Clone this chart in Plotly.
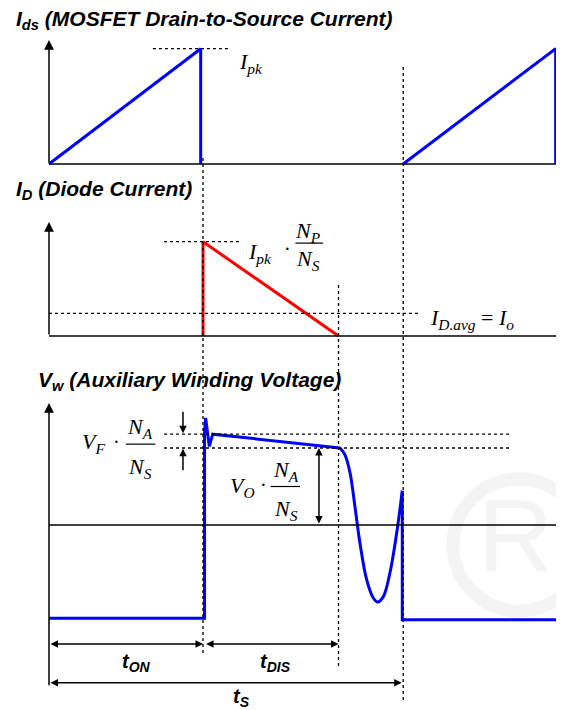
#
# Flyback waveforms: Ids, ID and Vw with Plotly
#

import plotly.graph_objects as go

W, H = 564, 710
OFF = 8  # browser body margin around the plot div
FW, FH = W - OFF, H - OFF

# time marks (t_ON = 1 unit)
t_on = 1.0
t_dis_end = 1.88
t_s = 2.3
t_end = 3.35

# MOSFET current (normalised to Ipk)
ids_t = [0, 0.985, 0.985, None, t_s, 3.29, 3.29]
ids_v = [0, 1.0, 0.0, None, 0, 1.0, 0.0]

# Diode current (normalised to Ipk*Np/Ns)
id_t = [t_on, t_on, t_dis_end]
id_v = [0, 1.0, 0]
id_avg = 0.24

# Auxiliary winding voltage (normalised to Vo*Na/Ns)
vw_on_t = [0, 1.01, 1.01, 1.017, 1.041, 1.063, 1.89]
vw_on_v = [-1.21, -1.21, 1.2, 1.39, 1.02, 1.18, 1.0]
vw_ring_t = [1.89, 1.922, 1.955, 1.987, 2.019, 2.063, 2.106, 2.134, 2.171, 2.214, 2.258, 2.294]
vw_ring_v = [1.0, 0.91, 0.675, 0.234, -0.234, -0.714, -0.948, -1.0, -0.93, -0.62, -0.10, 0.445]
vw_off_t = [2.294, 2.294, 3.32]
vw_off_v = [0.445, -1.23, -1.23]
vf_level = 1.18


def px(x):
    return (x - OFF) / FW


def py(y):
    return 1 - (y - OFF) / FH


def ydom(p0, p1, top, bot):
    # value 0 at pixel p0, value 1 at pixel p1, panel between top and bot
    u = p0 - p1
    return dict(domain=[py(bot), py(top)],
                range=[(p0 - bot) / u, (p0 - top) / u],
                visible=False, fixedrange=True, anchor="x")


fig = go.Figure()

# faint watermark letter (drawn first so the lines sit on top)
fig.add_trace(go.Scatter(x=[3.03], y=[-0.27], mode="text", text=["R"], yaxis="y3",
                         textfont=dict(family="Liberation Sans, Arial, sans-serif",
                                       size=104, color="#f4f4f4"),
                         hoverinfo="skip"))

fig.add_trace(go.Scatter(x=ids_t, y=ids_v, mode="lines", yaxis="y",
                         line=dict(color="#0000ff", width=3), connectgaps=False))
fig.add_trace(go.Scatter(x=id_t, y=id_v, mode="lines", yaxis="y2",
                         line=dict(color="#ff0000", width=3)))
fig.add_trace(go.Scatter(x=vw_on_t, y=vw_on_v, mode="lines", yaxis="y3",
                         line=dict(color="#0000ff", width=3)))
fig.add_trace(go.Scatter(x=vw_ring_t, y=vw_ring_v, mode="lines", yaxis="y3",
                         line=dict(color="#0000ff", width=3, shape="spline", smoothing=1)))
fig.add_trace(go.Scatter(x=vw_off_t, y=vw_off_v, mode="lines", yaxis="y3",
                         line=dict(color="#0000ff", width=3)))

blk = dict(color="black", width=1.5)
dot = dict(color="black", width=1.3, dash="dot")
shapes = []

# faint watermark ring (registered mark)
shapes.append(dict(type="circle", xref="paper", yref="paper", layer="below",
                   x0=px(453), x1=px(585), y0=py(611), y1=py(479),
                   line=dict(color="#f4f4f4", width=13)))

# baselines
for yr in ["y", "y2", "y3"]:
    shapes.append(dict(type="line", xref="x", yref=yr, x0=0, x1=t_end, y0=0, y1=0, line=blk))
# dotted guides
shapes.append(dict(type="line", xref="x", yref="y", x0=0.675, x1=1.175, y0=1, y1=1, line=dot))
shapes.append(dict(type="line", xref="x", yref="y2", x0=0.747, x1=1.234, y0=1, y1=1, line=dot))
shapes.append(dict(type="line", xref="x", yref="y2", x0=0, x1=2.416, y0=id_avg, y1=id_avg, line=dot))
shapes.append(dict(type="line", xref="x", yref="y3", x0=0.747, x1=3.0, y0=vf_level, y1=vf_level, line=dot))
shapes.append(dict(type="line", xref="x", yref="y3", x0=0.747, x1=3.0, y0=1, y1=1, line=dot))
shapes.append(dict(type="line", xref="x", yref="paper", x0=t_on, x1=t_on,
                   y0=py(158), y1=py(656), line=dot))
shapes.append(dict(type="line", xref="x", yref="paper", x0=t_dis_end, x1=t_dis_end,
                   y0=py(285), y1=py(667), line=dot))
shapes.append(dict(type="line", xref="x", yref="paper", x0=t_s, x1=t_s,
                   y0=py(67), y1=py(700), line=dot))

ann = []


def arrow(x, y, ax, ay, yref, both=False, size=1.3):
    ann.append(dict(x=x, y=y, ax=ax, ay=ay, xref="x", yref=yref, axref="x", ayref=yref,
                    text="", showarrow=True, arrowhead=2, arrowsize=size, arrowwidth=1.5,
                    arrowcolor="black", standoff=0, startstandoff=0,
                    arrowside="end+start" if both else "end", startarrowhead=2,
                    startarrowsize=size))


# y axes with arrow tips
arrow(0, 1.075, 0, 0, "y")
arrow(0, 1.21, 0, 0, "y2")
arrow(0, 1.584, 0, -2.1, "y3")
# Vf marks
arrow(0.87, 1.19, 0.87, 1.49, "y3", size=1.0)
arrow(0.87, 0.99, 0.87, 0.69, "y3", size=1.0)
# Vo double arrow
arrow(1.753, 1.0, 1.753, 0.0, "y3", both=True, size=1.0)
# time spans
arrow(t_on, -1.545, 0, -1.545, "y3", both=True, size=1.0)
arrow(t_dis_end, -1.545, 1.01, -1.545, "y3", both=True, size=1.0)
arrow(t_s - 0.01, -2.05, 0, -2.05, "y3", both=True, size=1.0)

sans = "Liberation Sans, Arial, sans-serif"
serif = "Liberation Serif, Times New Roman, serif"


def txt(x, y, s, xref="paper", yref="paper", size=20, fam=sans, anchor="left"):
    ann.append(dict(x=x, y=y, xref=xref, yref=yref, text=s, showarrow=False,
                    xanchor=anchor, yanchor="middle",
                    font=dict(family=fam, size=size, color="black")))


# titles
txt(px(14), py(20), "<b><i>I<sub>ds</sub> (MOSFET Drain-to-Source Current)</i></b>", size=21)
txt(px(14), py(190), "<b><i>I<sub>D</sub> (Diode Current)</i></b>", size=21)
txt(px(36), py(381), "<b><i>V<sub>w</sub> (Auxiliary Winding Voltage)</i></b>", size=21)

# Ipk
txt(1.22, 0.88, "<i>I</i><sub><i>pk</i></sub>", xref="x", yref="y", size=22, fam=serif)

# Ipk*Np/Ns
txt(1.28, 0.88, "<i>I</i><sub><i>pk</i></sub>", xref="x", yref="y2", size=22, fam=serif)
txt(1.51, 0.92, "·", xref="x", yref="y2", size=20, fam=serif)
txt(1.68, 1.1, "<i>N</i><sub><i>P</i></sub>", xref="x", yref="y2", size=22, fam=serif, anchor="center")
txt(1.68, 0.81, "<i>N</i><sub><i>S</i></sub>", xref="x", yref="y2", size=22, fam=serif, anchor="center")
shapes.append(dict(type="line", xref="x", yref="y2", x0=1.6, x1=1.78, y0=0.985, y1=0.985,
                   line=dict(color="black", width=1.2)))
# ID.avg = Io
txt(2.46, 0.18, "<i>I</i><sub><i>D.avg</i></sub> = <i>I</i><sub><i>o</i></sub>",
    xref="x", yref="y2", size=22, fam=serif)

# Vf*Na/Ns
txt(0.2, 1.06, "<i>V</i><sub><i>F</i></sub>", xref="x", yref="y3", size=22, fam=serif)
txt(0.4, 1.08, "·", xref="x", yref="y3", size=20, fam=serif)
txt(0.59, 1.26, "<i>N</i><sub><i>A</i></sub>", xref="x", yref="y3", size=22, fam=serif, anchor="center")
txt(0.59, 0.74, "<i>N</i><sub><i>S</i></sub>", xref="x", yref="y3", size=22, fam=serif, anchor="center")
shapes.append(dict(type="line", xref="x", yref="y3", x0=0.5, x1=0.69, y0=1.05, y1=1.05,
                   line=dict(color="black", width=1.2)))
# Vo*Na/Ns
txt(1.16, 0.5, "<i>V</i><sub><i>O</i></sub>", xref="x", yref="y3", size=22, fam=serif)
txt(1.36, 0.52, "·", xref="x", yref="y3", size=20, fam=serif)
txt(1.54, 0.7, "<i>N</i><sub><i>A</i></sub>", xref="x", yref="y3", size=22, fam=serif, anchor="center")
txt(1.54, 0.2, "<i>N</i><sub><i>S</i></sub>", xref="x", yref="y3", size=22, fam=serif, anchor="center")
shapes.append(dict(type="line", xref="x", yref="y3", x0=1.44, x1=1.63, y0=0.5, y1=0.5,
                   line=dict(color="black", width=1.2)))

# time labels
txt(0.57, -1.79, "<b><i>t<sub>ON</sub></i></b>", xref="x", yref="y3", size=20, anchor="center")
txt(1.47, -1.79, "<b><i>t<sub>DIS</sub></i></b>", xref="x", yref="y3", size=20, anchor="center")
txt(1.25, -2.24, "<b><i>t<sub>S</sub></i></b>", xref="x", yref="y3", size=20, anchor="center")

fig.update_layout(
    width=FW, height=FH, margin=dict(l=0, r=0, t=0, b=0),
    paper_bgcolor="white", plot_bgcolor="rgba(0,0,0,0)", showlegend=False,
    xaxis=dict(domain=[0, 1], range=[(OFF - 49) / 154, 515 / 154], visible=False, fixedrange=True),
    yaxis=ydom(164, 48.7, OFF, 180),
    yaxis2=ydom(336, 241.7, 180, 372),
    yaxis3=ydom(525, 448, 372, H),
    shapes=shapes, annotations=ann,
)

fig.write_html("out.html")
